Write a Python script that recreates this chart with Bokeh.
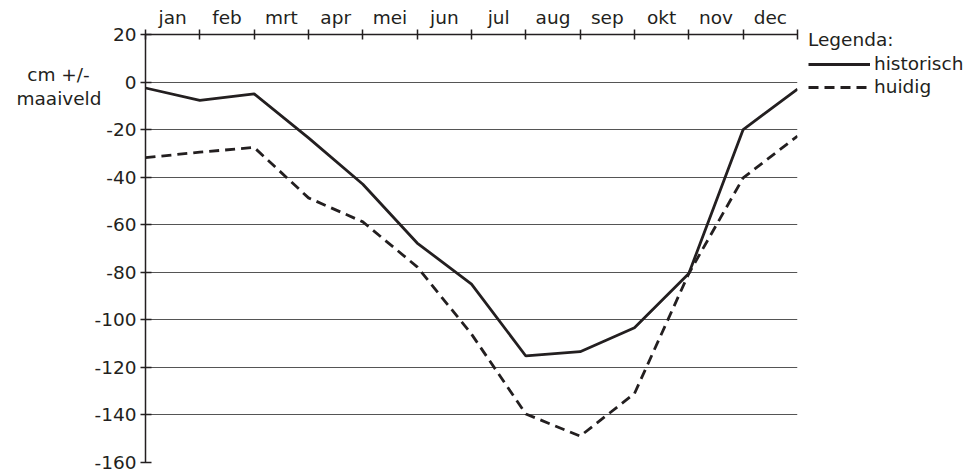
from bokeh.plotting import figure
from bokeh.models import Range1d, FixedTicker, Legend, LegendItem, LinearAxis
from bokeh.embed import file_html
from bokeh.resources import INLINE

months = ["jan", "feb", "mrt", "apr", "mei", "jun", "jul", "aug", "sep", "okt", "nov", "dec"]
x_pos = list(range(13))
historisch = [-2.5, -7.7, -5, -23.5, -43, -67.7, -85, -115.2, -113.4, -103.3, -80.5, -20, -3]
huidig = [-31.8, -29.5, -27.5, -48.7, -58.8, -77.7, -106, -139.6, -148.9, -131, -80.5, -40.3, -22.7]
y_ticks = [-160, -140, -120, -100, -80, -60, -40, -20, 0, 20]
y_title = ["cm +/-\u00a0\u00a0", "maaiveld"]
y_title_pos = [3.0, -7.0]

FONT = "DejaVu Sans"
FS = "18.5px"
TXT = "#231f20"

p = figure(frame_width=652, frame_height=428, x_axis_location="above",
           x_range=Range1d(0, 12), y_range=Range1d(-160, 20),
           output_backend="svg", toolbar_location=None,
           min_border_left=145, min_border_right=175, min_border_top=34, min_border_bottom=10)
p.outline_line_color = None
p.background_fill_color = "white"
p.border_fill_color = "white"

# top axis: month names centred between boundary ticks
xa = p.xaxis[0]
centers = [i + 0.5 for i in range(12)]
xa.ticker = FixedTicker(ticks=centers, minor_ticks=x_pos)
xa.major_label_overrides = {c: m for c, m in zip(centers, months)}
xa.major_tick_line_color = None
xa.major_tick_out = 0
xa.major_tick_in = 0
xa.minor_tick_in = 5
xa.minor_tick_out = 5
xa.minor_tick_line_color = TXT
xa.minor_tick_line_width = 1.5
xa.axis_line_color = TXT
xa.axis_line_width = 1.5
xa.major_label_standoff = 2
xa.major_label_text_font = FONT
xa.major_label_text_font_size = FS
xa.major_label_text_color = TXT

ya = p.yaxis[0]
ya.ticker = FixedTicker(ticks=y_ticks)
ya.major_label_overrides = {t: str(t) for t in y_ticks}
ya.major_tick_in = 6
ya.major_tick_out = 5
ya.minor_tick_line_color = None
ya.major_tick_line_color = TXT
ya.major_tick_line_width = 1.5
ya.axis_line_color = TXT
ya.axis_line_width = 1.5
ya.major_label_standoff = 4
ya.major_label_text_font = FONT
ya.major_label_text_font_size = FS
ya.major_label_text_color = TXT

# y title as an extra left axis with two text ticks
ya2 = LinearAxis(ticker=FixedTicker(ticks=y_title_pos),
                 major_label_overrides={v: t for v, t in zip(y_title_pos, y_title)})
ya2.axis_line_color = None
ya2.major_tick_line_color = None
ya2.minor_tick_line_color = None
ya2.major_tick_in = 0
ya2.major_tick_out = 0
ya2.major_label_standoff = -10
ya2.major_label_text_font = FONT
ya2.major_label_text_font_size = FS
ya2.major_label_text_color = TXT
p.add_layout(ya2, "left")

p.xgrid.visible = False
p.ygrid.ticker = FixedTicker(ticks=y_ticks)
p.ygrid.grid_line_color = "#555555"
p.ygrid.grid_line_width = 1.2

r1 = p.line(x_pos, historisch, line_color=TXT, line_width=2.8)
r2 = p.line(x_pos, huidig, line_color=TXT, line_width=2.8, line_dash="10 6")

legend = Legend(items=[LegendItem(label="historisch", renderers=[r1]),
                       LegendItem(label="huidig", renderers=[r2])],
                title="Legenda:", location=(11, 365),
                title_text_font=FONT, title_text_font_size=FS, title_text_color=TXT,
                title_text_font_style="normal",
                label_text_font=FONT, label_text_font_size=FS, label_text_color=TXT,
                glyph_width=62, glyph_height=20, label_height=20, label_standoff=4,
                spacing=2, padding=0, margin=0, title_standoff=3,
                background_fill_alpha=0, border_line_color=None)
p.add_layout(legend, "right")

open("out.html", "w").write(file_html(p, INLINE))
